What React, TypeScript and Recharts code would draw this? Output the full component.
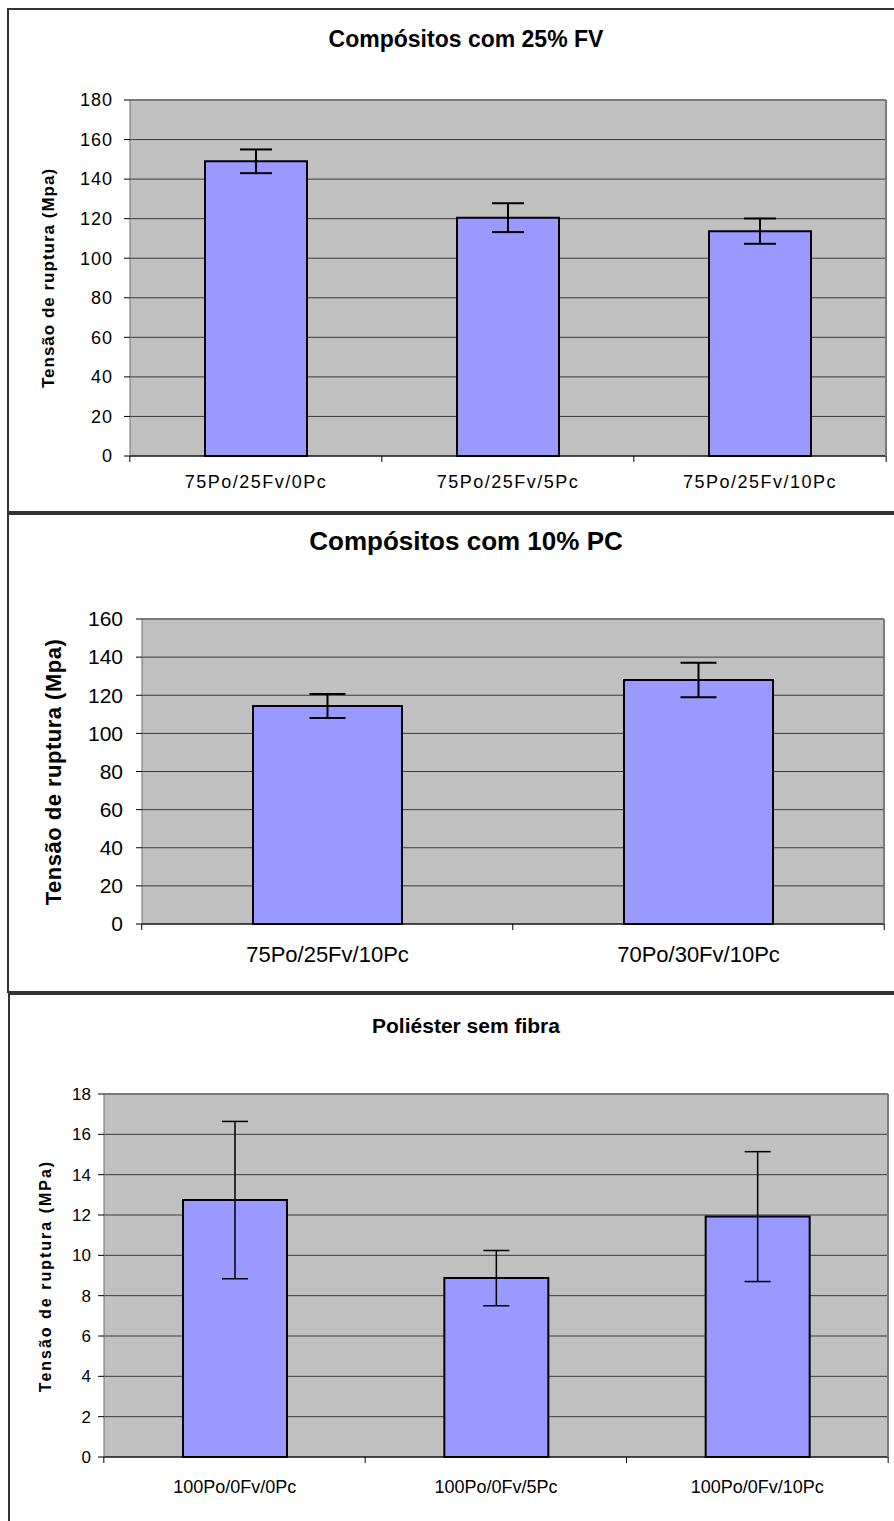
import React from 'react';
import { BarChart, Bar, XAxis, YAxis, CartesianGrid, ErrorBar, ReferenceLine } from 'recharts';

// --- Data ---

// Compósitos com 25% FV
const categories25 = ['75Po/25Fv/0Pc', '75Po/25Fv/5Pc', '75Po/25Fv/10Pc'];
const tensao25 = [149, 120.5, 113.7];
const erro25 = [6, 7.3, 6.4];
const ticks25 = [0, 20, 40, 60, 80, 100, 120, 140, 160, 180];

// Compósitos com 10% PC
const categories10 = ['75Po/25Fv/10Pc', '70Po/30Fv/10Pc'];
const tensao10 = [114.4, 128];
const erro10 = [6.3, 9];
const ticks10 = [0, 20, 40, 60, 80, 100, 120, 140, 160];

// Poliéster sem fibra
const categoriesPo = ['100Po/0Fv/0Pc', '100Po/0Fv/5Pc', '100Po/0Fv/10Pc'];
const tensaoPo = [12.74, 8.87, 11.92];
const erroPo = [3.9, 1.37, 3.22];
const ticksPo = [0, 2, 4, 6, 8, 10, 12, 14, 16, 18];

const FONT = "'Liberation Sans', Arial, Helvetica, sans-serif";
const PAGE_W = 894;

interface PanelLayout {
  top: number;
  height: number;
  frameHeight: number;
  frameLeft: number;
  titleY: number;
  titleSize: number;
  plotTop: number;
  plotBottom: number;
  plotLeft: number;
  plotRight: number;
  tickSize: number;
  tickSpacing: number;
  yTickMargin: number;
  xLabelOffset: number;
  xSize: number;
  xSpacing: number;
  yLabelX: number;
  yLabelSize: number;
  yLabelSpacing: number;
  barSize: number;
  capWidth: number;
  errWidth: number;
}

interface PanelProps {
  layout: PanelLayout;
  title: string;
  yLabel: string;
  categories: string[];
  values: number[];
  errors: number[];
  ticks: number[];
}

const Panel: React.FC<PanelProps> = ({ layout: L, title, yLabel, categories, values, errors, ticks }) => {
  const data = categories.map((name, i) => ({ name, value: values[i], err: errors[i] }));
  const yMax = ticks[ticks.length - 1];
  const band = (L.plotRight - L.plotLeft) / categories.length;
  const xAxisHeight = 40;
  const marginBottom = L.height - (L.plotBottom - L.top) - xAxisHeight;

  // category labels, with the tick marks on the category boundaries
  const XTick = (props: any) => {
    const { x, y, payload, index } = props;
    const axisY = y - 8;
    return (
      <g>
        <line x1={x - band / 2} x2={x - band / 2} y1={axisY} y2={axisY + 6} stroke="#000" />
        {index === categories.length - 1 && (
          <line x1={x + band / 2} x2={x + band / 2} y1={axisY} y2={axisY + 6} stroke="#000" />
        )}
        <text x={x} y={axisY + L.xLabelOffset} dy="0.35em" textAnchor="middle" fill="#000"
          fontSize={L.xSize} fontFamily={FONT} letterSpacing={L.xSpacing}>
          {payload.value}
        </text>
      </g>
    );
  };

  const YTick = (props: any) => {
    const { x, y, payload } = props;
    return (
      <text x={x} y={y} dy="0.35em" textAnchor="end" fill="#000"
        fontSize={L.tickSize} fontFamily={FONT} letterSpacing={L.tickSpacing}>
        {payload.value}
      </text>
    );
  };

  const plotMid = (L.plotTop + L.plotBottom) / 2;

  return (
    <>
      <div style={{
        position: 'absolute', left: L.frameLeft, top: L.top, width: 1000, height: L.frameHeight,
        border: '2px solid #333', boxSizing: 'border-box', background: '#fff',
      }} />
      <div style={{
        position: 'absolute', left: 0, width: 932, top: L.titleY, transform: 'translateY(-50%)',
        textAlign: 'center', fontFamily: FONT, fontWeight: 'bold', fontSize: L.titleSize, lineHeight: 1,
        color: '#000', whiteSpace: 'nowrap',
      }}>
        {title}
      </div>
      <div style={{
        position: 'absolute', left: L.yLabelX, top: plotMid,
        transform: 'translate(-50%, -50%) rotate(-90deg)', fontFamily: FONT, fontWeight: 'bold',
        fontSize: L.yLabelSize, letterSpacing: L.yLabelSpacing, lineHeight: 1, whiteSpace: 'nowrap', color: '#000',
      }}>
        {yLabel}
      </div>
      <div style={{ position: 'absolute', left: 0, top: L.top }}>
        <BarChart
          width={PAGE_W}
          height={L.height}
          data={data}
          margin={{ top: L.plotTop - L.top, right: PAGE_W - L.plotRight, bottom: marginBottom, left: 0 }}
        >
          <CartesianGrid vertical={false} fill="#C0C0C0" fillOpacity={1} stroke="#3a3a3a" />
          <XAxis dataKey="name" height={xAxisHeight} interval={0} tickLine={false}
            tickSize={6} tickMargin={2} axisLine={{ stroke: '#000' }} tick={XTick} />
          <YAxis width={L.plotLeft} domain={[0, yMax]} ticks={ticks} interval={0}
            tickSize={6} tickMargin={L.yTickMargin} axisLine={{ stroke: '#707070' }}
            tickLine={{ stroke: '#000' }} tick={YTick} />
          <YAxis yAxisId="right" orientation="right" width={1} domain={[0, yMax]}
            tick={false} tickLine={false} axisLine={{ stroke: '#7a7a7a', strokeWidth: 2 }} />
          <ReferenceLine y={yMax} stroke="#7a7a7a" strokeWidth={2} />
          <Bar dataKey="value" fill="#9999FF" stroke="#000" strokeWidth={2}
            barSize={L.barSize} isAnimationActive={false}>
            <ErrorBar dataKey="err" width={L.capWidth} stroke="#000" strokeWidth={L.errWidth}
              direction="y" isAnimationActive={false} />
          </Bar>
        </BarChart>
      </div>
    </>
  );
};

const layout25: PanelLayout = {
  top: 8, height: 505, frameHeight: 505, frameLeft: 7, titleY: 39, titleSize: 23,
  plotTop: 100, plotBottom: 456, plotLeft: 130, plotRight: 887,
  tickSize: 18, tickSpacing: 1, yTickMargin: 11,
  xLabelOffset: 26, xSize: 18, xSpacing: 1.5,
  yLabelX: 48, yLabelSize: 17, yLabelSpacing: 1,
  barSize: 102, capWidth: 16, errWidth: 2,
};

const layout10: PanelLayout = {
  top: 513, height: 480, frameHeight: 480, frameLeft: 7, titleY: 541, titleSize: 26,
  plotTop: 619, plotBottom: 924, plotLeft: 142, plotRight: 885,
  tickSize: 21, tickSpacing: 0, yTickMargin: 13,
  xLabelOffset: 30, xSize: 22, xSpacing: 0,
  yLabelX: 54, yLabelSize: 22, yLabelSpacing: 0.5,
  barSize: 149, capWidth: 18, errWidth: 2,
};

const layoutPo: PanelLayout = {
  top: 993, height: 528, frameHeight: 560, frameLeft: 8, titleY: 1025, titleSize: 21,
  plotTop: 1094, plotBottom: 1457, plotLeft: 104, plotRight: 889,
  tickSize: 17, tickSpacing: 0, yTickMargin: 7,
  xLabelOffset: 30, xSize: 18, xSpacing: 0,
  yLabelX: 46, yLabelSize: 16, yLabelSpacing: 2,
  barSize: 104, capWidth: 13, errWidth: 1.5,
};

const App: React.FC = () => (
  <div style={{ position: 'relative', width: PAGE_W, height: 1521, overflow: 'hidden', background: '#fff' }}>
    <style>{'body{margin:0}'}</style>
    <Panel layout={layout25} title="Compósitos com 25% FV" yLabel="Tensão de ruptura (Mpa)"
      categories={categories25} values={tensao25} errors={erro25} ticks={ticks25} />
    <Panel layout={layout10} title="Compósitos com 10% PC" yLabel="Tensão de ruptura (Mpa)"
      categories={categories10} values={tensao10} errors={erro10} ticks={ticks10} />
    <Panel layout={layoutPo} title="Poliéster sem fibra" yLabel="Tensão de ruptura (MPa)"
      categories={categoriesPo} values={tensaoPo} errors={erroPo} ticks={ticksPo} />
  </div>
);

export default App;
